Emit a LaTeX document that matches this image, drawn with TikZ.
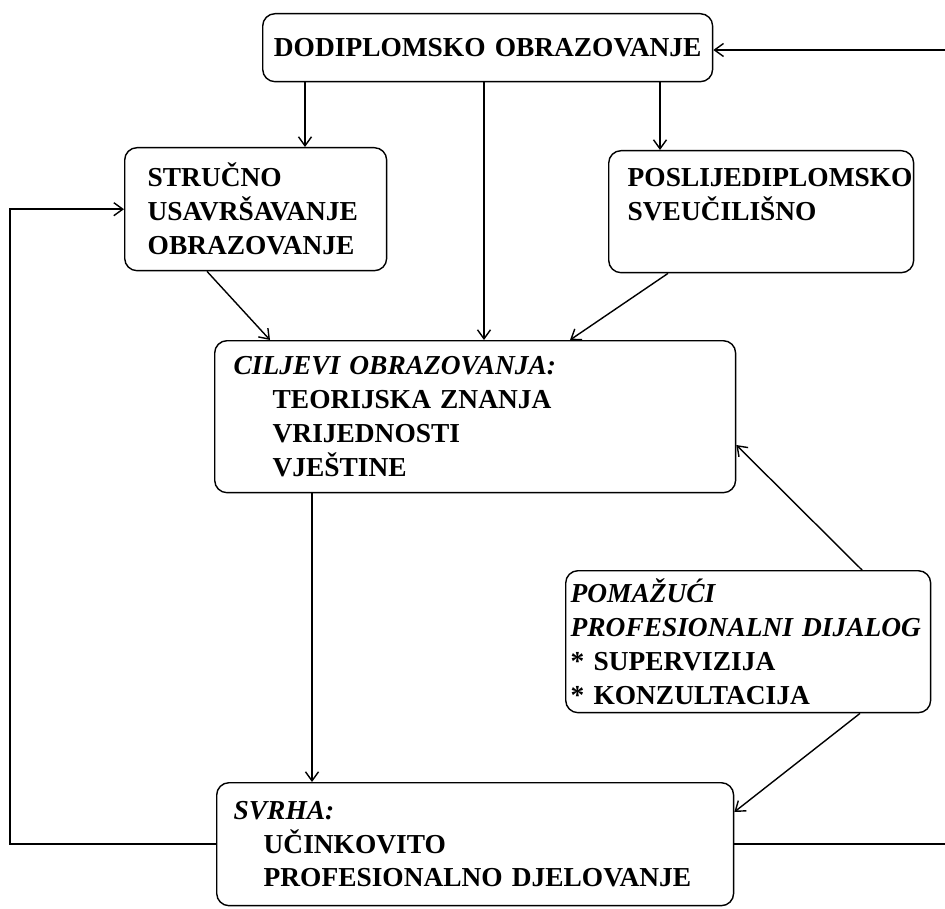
\documentclass[tikz,border=0pt]{standalone}
\usepackage{fontspec}
\setmainfont{Liberation Serif}
\usetikzlibrary{arrows.meta}
\begin{document}
\begin{tikzpicture}[x=0.02cm,y=-0.02cm,>={Straight Barb[length=1.8mm,width=2.6mm]},line width=0.8pt]

        \useasboundingbox (0,0) rectangle (945,908);

        \begin{scope}[every node/.style={draw, rounded corners=7pt, anchor=north west,
            align=left, font=\fontsize{15.6}{19.3}\selectfont\bfseries}]
          \node[align=center, inner xsep=0.2cm, text width=8.6cm, minimum height=1.36cm] (dodi)  at (262,13)
            {DODIPLOMSKO OBRAZOVANJE};
          \node[inner xsep=0.46cm, text width=4.32cm, minimum height=2.46cm] (struc) at (124,147)
            {STRUČNO\\ USAVRŠAVANJE\\ OBRAZOVANJE};
          \node[inner xsep=0.38cm, text width=5.34cm, minimum height=2.44cm] (posl)  at (608,150)
            {POSLIJEDIPLOMSKO\\ SVEUČILIŠNO\\ \mbox{}};
          \node[inner xsep=0.38cm, text width=9.66cm, minimum height=3.04cm] (cilj)  at (214,340)
            {\textit{CILJEVI OBRAZOVANJA:}\\ \hspace*{0.78cm}TEORIJSKA ZNANJA\\
             \hspace*{0.78cm}VRIJEDNOSTI\\ \hspace*{0.78cm}VJEŠTINE};
          \node[inner xsep=0.1cm, text width=7.1cm, minimum height=2.84cm] (poma)  at (565,570)
            {\textit{POMAŽUĆI}\\ \textit{PROFESIONALNI DIJALOG}\\ {*} SUPERVIZIJA\\ {*} KONZULTACIJA};
          \node[inner xsep=0.34cm, text width=9.66cm, minimum height=2.46cm] (svrha) at (216,782)
            {\textit{SVRHA:}\\ \hspace*{0.6cm}UČINKOVITO\\ \hspace*{0.6cm}PROFESIONALNO DJELOVANJE};
        \end{scope}

        \coordinate (rtop) at (945,50);
        \coordinate (rbot) at (945,0 |- svrha.east);

        \begin{scope}[every edge/.style={draw,->}]
          \path (305,0 |- dodi.south) edge (305,0 |- struc.north);
          \path (484,0 |- dodi.south) edge (484,0 |- cilj.north);
          \path (660,0 |- dodi.south) edge (660,0 |- posl.north);
          \path (207,0 |- struc.south) edge (270,0 |- cilj.north);
          \path (668,0 |- posl.south) edge (570,0 |- cilj.north);
          \path (312,0 |- cilj.south) edge (312,0 |- svrha.north);
          \path (862,0 |- poma.north) edge (cilj.east |- 0,445);
          \path (860,0 |- poma.south) edge (svrha.east |- 0,812);
          \path (rtop) edge (rtop -| dodi.east);
        \end{scope}

        \draw[->] (svrha.west) -- (10,0 |- svrha.west) |- (struc.west);
        \draw (svrha.east) -- (rbot);

      \end{tikzpicture}
\end{document}
